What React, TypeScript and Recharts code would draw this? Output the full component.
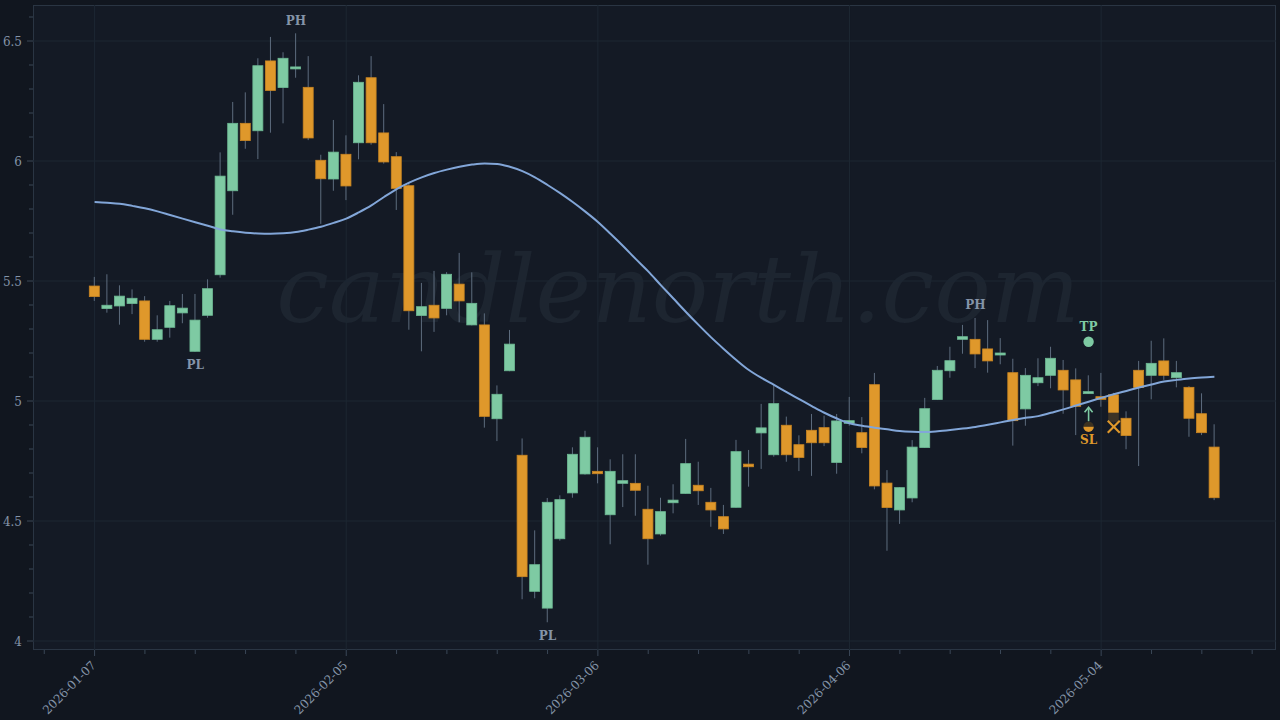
import React from 'react';
import { ComposedChart, Bar, Line, Scatter, XAxis, YAxis, CartesianGrid } from 'recharts';

// trading days shown on the chart
const dates = [
  '2026-01-07', '2026-01-08', '2026-01-09', '2026-01-12', '2026-01-13', '2026-01-14', '2026-01-15', '2026-01-16',
  '2026-01-20', '2026-01-21', '2026-01-22', '2026-01-23', '2026-01-26', '2026-01-27', '2026-01-28', '2026-01-29',
  '2026-01-30', '2026-02-02', '2026-02-03', '2026-02-04', '2026-02-05', '2026-02-06', '2026-02-09', '2026-02-10',
  '2026-02-11', '2026-02-12', '2026-02-13', '2026-02-17', '2026-02-18', '2026-02-19', '2026-02-20', '2026-02-23',
  '2026-02-24', '2026-02-25', '2026-02-26', '2026-02-27', '2026-03-02', '2026-03-03', '2026-03-04', '2026-03-05',
  '2026-03-06', '2026-03-09', '2026-03-10', '2026-03-11', '2026-03-12', '2026-03-13', '2026-03-16', '2026-03-17',
  '2026-03-18', '2026-03-19', '2026-03-20', '2026-03-23', '2026-03-24', '2026-03-25', '2026-03-26', '2026-03-27',
  '2026-03-30', '2026-03-31', '2026-04-01', '2026-04-02', '2026-04-06', '2026-04-07', '2026-04-08', '2026-04-09',
  '2026-04-10', '2026-04-13', '2026-04-14', '2026-04-15', '2026-04-16', '2026-04-17', '2026-04-20', '2026-04-21',
  '2026-04-22', '2026-04-23', '2026-04-24', '2026-04-27', '2026-04-28', '2026-04-29', '2026-04-30', '2026-05-01',
  '2026-05-04', '2026-05-05', '2026-05-06', '2026-05-07', '2026-05-08', '2026-05-11', '2026-05-12', '2026-05-13',
  '2026-05-14', '2026-05-15',
];

const opens = [
  5.479, 5.385, 5.396, 5.406, 5.417, 5.257, 5.307, 5.367, 5.207, 5.357,
  5.526, 5.876, 6.157, 6.126, 6.417, 6.306, 6.385, 6.307, 6.003, 5.925,
  6.028, 6.076, 6.347, 6.117, 6.018, 5.897, 5.356, 5.399, 5.386, 5.487,
  5.317, 5.317, 4.926, 5.126, 4.774, 4.207, 4.137, 4.426, 4.617, 4.696,
  4.707, 4.526, 4.657, 4.657, 4.549, 4.446, 4.576, 4.615, 4.649, 4.578,
  4.518, 4.557, 4.737, 4.867, 4.776, 4.899, 4.818, 4.878, 4.889, 4.744,
  4.907, 4.868, 5.068, 4.658, 4.546, 4.596, 4.806, 5.006, 5.126, 5.257,
  5.257, 5.217, 5.195, 5.118, 4.967, 5.076, 5.107, 5.128, 5.088, 5.036,
  5.018, 5.026, 4.928, 5.128, 5.107, 5.167, 5.097, 5.057, 4.947, 4.808,
];
const highs = [
  5.517, 5.528, 5.482, 5.465, 5.437, 5.357, 5.417, 5.446, 5.446, 5.507,
  6.036, 6.246, 6.286, 6.428, 6.517, 6.453, 6.532, 6.437, 6.026, 6.171,
  6.107, 6.357, 6.437, 6.237, 6.037, 5.911, 5.492, 5.542, 5.537, 5.617,
  5.536, 5.365, 5.065, 5.296, 4.844, 4.461, 4.596, 4.607, 4.807, 4.876,
  4.807, 4.757, 4.778, 4.778, 4.647, 4.597, 4.653, 4.842, 4.747, 4.638,
  4.567, 4.838, 4.796, 4.988, 5.067, 4.935, 4.857, 4.946, 4.939, 4.946,
  5.017, 4.933, 5.117, 4.712, 4.641, 4.837, 5.013, 5.146, 5.226, 5.317,
  5.346, 5.337, 5.262, 5.176, 5.137, 5.178, 5.226, 5.171, 5.136, 5.107,
  5.117, 5.034, 4.957, 5.167, 5.251, 5.261, 5.167, 5.062, 5.032, 4.903,
];
const lows = [
  5.417, 5.368, 5.318, 5.362, 5.247, 5.247, 5.264, 5.324, 5.205, 5.347,
  5.514, 5.776, 6.051, 6.008, 6.118, 6.157, 6.347, 6.087, 5.738, 5.876,
  5.837, 6.007, 6.068, 5.989, 5.796, 5.297, 5.207, 5.288, 5.357, 5.328,
  5.315, 4.889, 4.833, 5.124, 4.174, 4.178, 4.078, 4.418, 4.597, 4.693,
  4.657, 4.403, 4.558, 4.522, 4.318, 4.439, 4.532, 4.613, 4.567, 4.476,
  4.446, 4.555, 4.643, 4.717, 4.768, 4.747, 4.708, 4.688, 4.812, 4.697,
  4.897, 4.782, 4.632, 4.376, 4.488, 4.578, 4.805, 5.004, 5.097, 5.197,
  5.137, 5.118, 5.153, 4.814, 4.897, 5.062, 5.053, 4.947, 4.858, 5.030,
  4.976, 4.905, 4.799, 4.729, 5.007, 5.088, 5.057, 4.851, 4.858, 4.587,
];
const closes = [
  5.435, 5.399, 5.437, 5.428, 5.257, 5.297, 5.397, 5.387, 5.337, 5.468,
  5.937, 6.157, 6.085, 6.397, 6.294, 6.428, 6.392, 6.096, 5.926, 6.037,
  5.896, 6.328, 6.076, 5.996, 5.886, 5.376, 5.393, 5.346, 5.528, 5.417,
  5.407, 4.936, 5.028, 5.237, 4.268, 4.318, 4.578, 4.589, 4.778, 4.849,
  4.697, 4.707, 4.668, 4.628, 4.426, 4.539, 4.587, 4.739, 4.626, 4.546,
  4.467, 4.789, 4.726, 4.888, 4.989, 4.776, 4.765, 4.826, 4.826, 4.917,
  4.918, 4.806, 4.646, 4.556, 4.639, 4.808, 4.968, 5.128, 5.168, 5.268,
  5.196, 5.167, 5.200, 4.918, 5.107, 5.097, 5.178, 5.046, 4.978, 5.039,
  5.007, 4.913, 4.856, 5.056, 5.157, 5.107, 5.118, 4.928, 4.868, 4.597,
];
// smoothed moving average
const maValues = [
  5.829, 5.826, 5.822, 5.813, 5.803, 5.790, 5.775, 5.760, 5.745, 5.730,
  5.715, 5.707, 5.701, 5.698, 5.697, 5.699, 5.704, 5.714, 5.726, 5.742,
  5.760, 5.786, 5.815, 5.850, 5.883, 5.910, 5.932, 5.950, 5.964, 5.976,
  5.985, 5.990, 5.988, 5.976, 5.958, 5.932, 5.900, 5.866, 5.829, 5.789,
  5.746, 5.697, 5.646, 5.592, 5.540, 5.483, 5.427, 5.371, 5.317, 5.265,
  5.217, 5.171, 5.129, 5.096, 5.067, 5.037, 5.008, 4.979, 4.951, 4.927,
  4.907, 4.897, 4.889, 4.882, 4.875, 4.872, 4.871, 4.874, 4.879, 4.885,
  4.892, 4.901, 4.911, 4.921, 4.930, 4.937, 4.951, 4.965, 4.981, 4.997,
  5.013, 5.028, 5.042, 5.056, 5.069, 5.081, 5.088, 5.094, 5.098, 5.101,
];

const labelledDateIdx = [0, 20, 40, 60, 80];
const dateTickIdx = [-4, 0, 4, 8, 12, 16, 20, 24, 28, 32, 36, 40, 44, 48, 52, 56, 60, 64, 68, 72, 76, 80, 84, 88, 92];
const priceTicks = [4, 4.1, 4.2, 4.3, 4.4, 4.5, 4.6, 4.7, 4.8, 4.9, 5, 5.1, 5.2, 5.3, 5.4, 5.5, 5.6, 5.7, 5.8, 5.9, 6, 6.1, 6.2, 6.3, 6.4, 6.5, 6.6];
const priceLabels = [4, 4.5, 5, 5.5, 6, 6.5];

const pivotHighIdx = [16, 70];
const pivotLowIdx = [8, 36];
const takeProfit = [{ i: 79, v: 5.247 }];
const entryLong = [{ i: 79, v: 4.945 }];
const stopLoss = [{ i: 79, v: 4.893 }];
const exitTrade = [{ i: 81, v: 4.893 }];

const UP = '#7ecaa3';
const DOWN = '#df982b';
const WICK = '#5d6c7e';
const TEXT = '#8494a8';
const FONT = '"DejaVu Serif", serif';

const rows = dates.map((date, i) => ({
  i,
  date,
  o: opens[i],
  h: highs[i],
  l: lows[i],
  c: closes[i],
  ma: maValues[i],
}));
const pivotHighs = pivotHighIdx.map((i) => ({ i, v: highs[i] }));
const pivotLows = pivotLowIdx.map((i) => ({ i, v: lows[i] }));

const Candle = (props: any) => {
  const { x, y, width, height, payload } = props;
  if (!payload || height == null) return null;
  const { o, h, l, c } = payload;
  const top = Math.min(y, y + height);
  const span = Math.abs(height);
  const py = (v: number) => top + ((h - v) / (h - l)) * span;
  const up = c >= o;
  const cx = x + width / 2;
  const bTop = py(Math.max(o, c));
  const bBot = py(Math.min(o, c));
  return (
    <g>
      <line x1={cx} x2={cx} y1={top} y2={top + span} stroke={WICK} strokeWidth={1} />
      <rect
        x={x}
        y={bTop}
        width={width}
        height={Math.max(bBot - bTop, 2)}
        fill={up ? UP : DOWN}
        stroke={up ? '#6db893' : '#c98522'}
        strokeWidth={0.8}
      />
    </g>
  );
};

const DateTick = (props: any) => {
  const { x, y, payload } = props;
  const idx = payload.value;
  const major = labelledDateIdx.includes(idx);
  return (
    <g>
      <line x1={x} x2={x} y1={y} y2={y + (major ? 6 : 4)} stroke="#3a4757" />
      {major && (
        <text
          x={x + 2}
          y={y + 16}
          textAnchor="end"
          transform={`rotate(-45, ${x + 2}, ${y + 16})`}
          fill={TEXT}
          fontSize={12}
          fontFamily={FONT}
        >
          {dates[idx]}
        </text>
      )}
    </g>
  );
};

const PriceTick = (props: any) => {
  const { x, y, payload } = props;
  const v = payload.value;
  const major = priceLabels.some((p) => Math.abs(p - v) < 1e-6);
  return (
    <g>
      <line x1={x - (major ? 6 : 4)} x2={x} y1={y} y2={y} stroke="#3a4757" />
      {major && (
        <text x={x - 11} y={y + 4.5} textAnchor="end" fill={TEXT} fontSize={12} fontFamily={FONT}>
          {String(v)}
        </text>
      )}
    </g>
  );
};

const PivotHighMark = (props: any) => (
  <text x={props.cx} y={props.cy - 8.5} textAnchor="middle" fill={TEXT} fontSize={12} fontWeight="bold" fontFamily={FONT}>
    PH
  </text>
);
const PivotLowMark = (props: any) => (
  <text x={props.cx} y={props.cy + 17.5} textAnchor="middle" fill={TEXT} fontSize={12} fontWeight="bold" fontFamily={FONT}>
    PL
  </text>
);
const TakeProfitMark = (props: any) => (
  <g>
    <circle cx={props.cx} cy={props.cy} r={5.2} fill={UP} />
    <text x={props.cx} y={props.cy - 10.5} textAnchor="middle" fill={UP} fontSize={12} fontWeight="bold" fontFamily={FONT}>
      TP
    </text>
  </g>
);
const EntryMark = (props: any) => {
  const { cx, cy } = props;
  return (
    <g stroke={UP} strokeWidth={1.6} fill="none">
      <line x1={cx} x2={cx} y1={cy + 7} y2={cy - 6} />
      <polyline points={`${cx - 4},${cy - 2} ${cx},${cy - 7} ${cx + 4},${cy - 2}`} />
    </g>
  );
};
const StopLossMark = (props: any) => {
  const { cx, cy } = props;
  const r = 5.2;
  return (
    <g>
      <path d={`M ${cx - r} ${cy} A ${r} ${r} 0 0 1 ${cx + r} ${cy} Z`} fill="#3d3220" />
      <path d={`M ${cx - r} ${cy} A ${r} ${r} 0 0 0 ${cx + r} ${cy} Z`} fill={DOWN} />
      <text x={cx} y={cy + 17} textAnchor="middle" fill={DOWN} fontSize={12} fontWeight="bold" fontFamily={FONT}>
        SL
      </text>
    </g>
  );
};
const ExitMark = (props: any) => {
  const { cx, cy } = props;
  return (
    <g>
      <rect x={cx - 6} y={cy - 14} width={12} height={22} fill="#141a25" fillOpacity={0.8} />
      <g stroke={DOWN} strokeWidth={2.2}>
        <line x1={cx - 6} x2={cx + 6} y1={cy - 6} y2={cy + 6} />
        <line x1={cx - 6} x2={cx + 6} y1={cy + 6} y2={cy - 6} />
      </g>
    </g>
  );
};

export default function App() {
  return (
    <div style={{ position: 'absolute', left: 0, top: 0, width: 1280, height: 720, background: '#11161f', overflow: 'hidden' }}>
      <div
        style={{
          position: 'absolute',
          left: 33,
          top: 5,
          width: 1243,
          height: 645,
          boxSizing: 'border-box',
          background: '#141a25',
          border: '1px solid #2a3543',
        }}
      />
      <svg width={1280} height={720} style={{ position: 'absolute', left: 0, top: 0 }}>
        <text x={678} y={322} textAnchor="middle" fontFamily={FONT} fontStyle="italic" fontSize={94} fill="#1d2530">
          candlenorth.com
        </text>
      </svg>
      <div style={{ position: 'absolute', left: 0, top: 0 }}>
        <ComposedChart width={1280} height={720} data={rows} margin={{ top: 5, right: 4, bottom: 0, left: 0 }}>
          <CartesianGrid horizontalValues={priceLabels} verticalValues={labelledDateIdx} stroke="#1d2732" strokeWidth={1} />
          <XAxis
            dataKey="i"
            type="number"
            domain={[-4.895, 93.895]}
            ticks={dateTickIdx}
            interval={0}
            tick={<DateTick />}
            tickLine={false}
            tickSize={0}
            tickMargin={0}
            axisLine={false}
            height={70}
          />
          <YAxis
            type="number"
            domain={[3.9625, 6.65]}
            ticks={priceTicks}
            interval={0}
            tick={<PriceTick />}
            tickLine={false}
            tickSize={0}
            tickMargin={0}
            axisLine={false}
            width={33}
          />
          <Bar dataKey={(d: any) => [d.l, d.h]} barSize={10} shape={<Candle />} isAnimationActive={false} />
          <Line dataKey="ma" type="monotone" stroke="#82a6d8" strokeWidth={2} dot={false} activeDot={false} isAnimationActive={false} />
          <Scatter data={pivotHighs} dataKey="v" shape={<PivotHighMark />} isAnimationActive={false} />
          <Scatter data={pivotLows} dataKey="v" shape={<PivotLowMark />} isAnimationActive={false} />
          <Scatter data={takeProfit} dataKey="v" shape={<TakeProfitMark />} isAnimationActive={false} />
          <Scatter data={stopLoss} dataKey="v" shape={<StopLossMark />} isAnimationActive={false} />
          <Scatter data={entryLong} dataKey="v" shape={<EntryMark />} isAnimationActive={false} />
          <Scatter data={exitTrade} dataKey="v" shape={<ExitMark />} isAnimationActive={false} />
        </ComposedChart>
      </div>
    </div>
  );
}
